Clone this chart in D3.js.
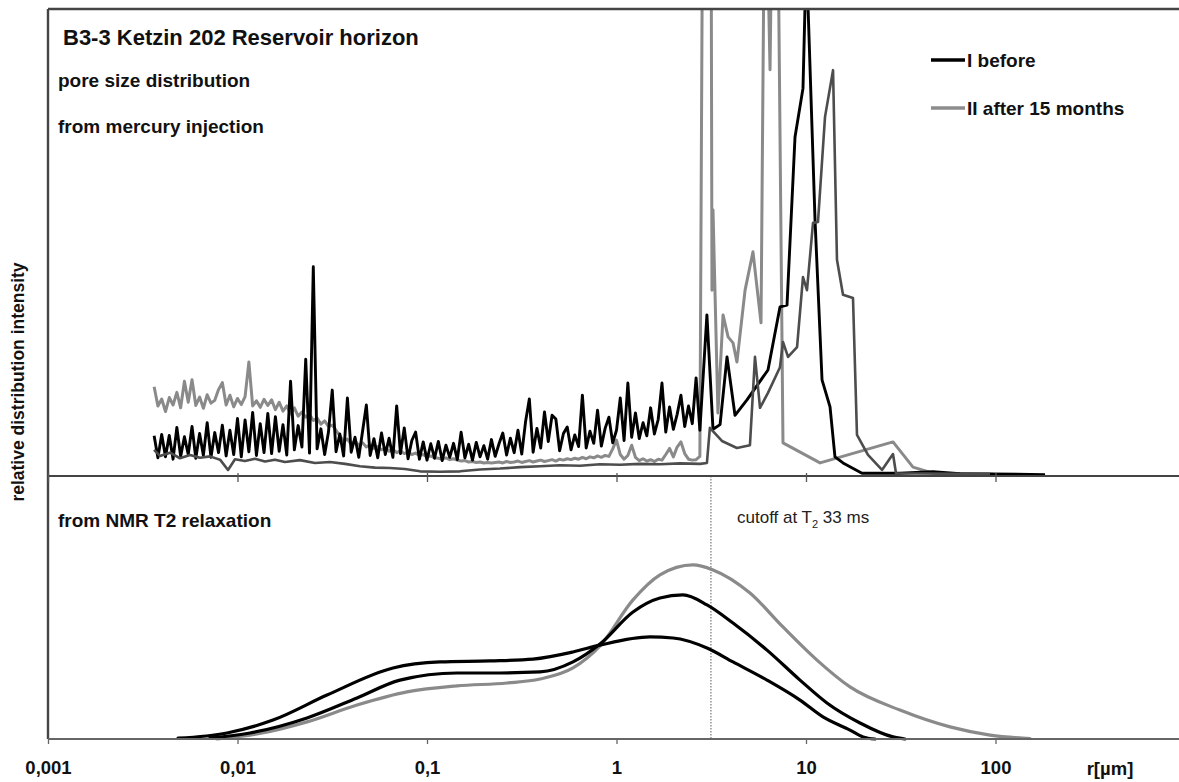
<!DOCTYPE html>
<html>
<head>
<meta charset="utf-8">
<script src="https://cdn.jsdelivr.net/npm/d3@7"></script>
<style>
  html, body { margin: 0; padding: 0; background: #fff; }
  svg { display: block; }
  text { font-family: "Liberation Sans", Arial, Helvetica, sans-serif; }
</style>
</head>
<body>
<svg id="chart" width="1179" height="782"></svg>
<script>
// ---- shared radius axis (µm, logarithmic) ----
const tickValues = [0.001, 0.01, 0.1, 1, 10, 100];
const tickLabels = ["0,001", "0,01", "0,1", "1", "10", "100"];
const cutoffRadius = 3.15;   // r at the T2 = 33 ms cutoff

// ---- mercury injection: intensities on an even log10(r) grid ----
const hgLogStart = -2.44;
const hgLogStep = 0.02;
const hgBefore = [
  8.6, 3.9, 8.9, 4.1, 8.7, 3.6, 10.4, 4.2, 8.4, 4.6,
  10.6, 3.8, 9.1, 4.4, 11.4, 4.0, 9.3, 5.0, 10.9, 4.3,
  9.8, 4.6, 12.3, 4.1, 12.0, 5.2, 13.6, 4.4, 11.2, 5.0,
  13.4, 4.8, 12.7, 5.3, 11.0, 4.5, 20.3, 5.6, 10.8, 6.2,
  25.0, 4.9, 44.8, 5.8, 10.1, 4.6, 9.4, 18.4, 5.2, 9.0,
  4.3, 16.7, 5.1, 8.3, 4.0, 9.6, 15.2, 4.4, 8.0, 3.9,
  9.2, 4.6, 8.1, 4.0, 15.0, 4.8, 10.3, 3.7, 7.6, 9.4,
  3.6, 7.3, 3.4, 6.9, 3.8, 7.4, 3.3, 6.6, 4.0, 7.0,
  3.5, 9.4, 3.9, 6.8, 3.4, 7.2, 4.1, 6.5, 3.6, 7.8,
  4.2, 6.9, 9.2, 4.5, 8.1, 5.0, 9.8, 4.7, 11.6, 16.5,
  5.1, 10.2, 6.0, 13.7, 7.4, 13.0, 12.2, 5.4, 9.1, 10.5,
  5.6, 8.8, 6.3, 17.3, 6.0, 9.6, 7.0, 14.1, 6.4, 10.2,
  12.6, 7.1, 9.8, 16.7, 7.6, 19.9, 8.3, 13.5, 8.0, 11.4,
  8.6, 14.6, 9.0, 12.1, 19.9, 9.4, 14.8, 10.0, 13.2, 17.3,
  10.6, 15.0, 11.2, 21.0, 9.8
];
const hgAfter = [
  19.1, 15.0, 16.5, 13.8, 16.8, 15.2, 17.9, 14.6, 20.3, 15.8,
  20.6, 15.1, 16.9, 14.5, 17.4, 15.6, 16.2, 18.5, 20.0, 15.2,
  17.3, 14.8, 16.6, 15.3, 17.0, 24.4, 15.0, 16.1, 14.7, 16.4,
  15.1, 16.3, 14.2, 15.8, 13.9, 15.0, 13.3, 14.6, 12.8, 13.7,
  12.6, 13.2, 11.9, 12.4, 11.1, 11.8, 10.6, 10.9, 9.8, 8.6,
  7.4, 7.9, 6.8, 7.5, 6.6, 7.1, 6.2, 6.7, 5.9, 6.3,
  5.6, 6.0, 5.3, 5.7, 5.0, 5.4, 4.8, 5.1, 4.6, 4.9,
  4.4, 4.6, 4.1, 4.3, 3.9, 3.8, 3.6, 3.9, 3.5, 3.7,
  3.4, 3.2, 3.3, 3.0, 3.1, 2.9, 3.0, 2.8, 2.9, 2.8,
  2.9, 3.0, 2.8, 3.1, 2.9, 3.0, 3.2, 2.9, 3.1, 3.3,
  3.0, 3.2, 3.4, 3.1, 3.3, 3.5, 3.2, 3.6, 3.4, 3.7,
  3.5, 3.8, 3.6, 4.0, 3.7, 4.1, 3.9, 4.3, 4.0, 4.4,
  4.2, 5.8, 7.7, 4.6, 3.6, 4.4, 6.6, 4.0, 3.3, 3.7,
  3.2, 3.5, 3.1, 3.6, 3.4, 4.6, 5.9, 4.1, 6.2, 7.3,
  4.8, 3.6, 3.4, 3.5, 4.2
];

// ---- mercury injection, coarse macropore region: [r µm, intensity] ----
const hgBeforePeak = [
  [3.00, 34.5], [3.23, 10.0], [3.52, 11.0], [3.83, 25.5], [4.22, 13.0],
  [4.88, 16.3], [6.30, 22.7], [7.29, 36.2], [7.94, 36.6], [8.75, 72.6],
  [9.64, 83.0], [9.88, 100.5], [10.25, 100.5], [11.16, 54.8], [12.15, 20.6],
  [13.39, 14.8], [14.22, 4.1], [15.68, 2.8], [19.75, 0.6], [31.3, 0.6],
  [46.8, 0.9], [65.0, 0.5], [182.5, 0.3]
];
const hgAfterPeak = [
  [2.86, 140], [3.15, 140], [3.19, 39.8], [3.23, 57.0], [3.43, 13.5],
  [3.65, 34.5], [3.88, 29.8], [4.12, 28.5], [4.32, 24.4], [4.77, 39.8],
  [5.25, 48.0], [5.79, 32.8], [6.08, 140], [6.46, 87.0], [6.70, 140],
  [7.03, 140], [7.56, 7.1], [11.86, 2.8], [28.78, 7.3], [36.7, 1.9],
  [46.8, 0.6], [97.0, 0.4]
];
const hgThird = [
  [0.003626, 5.6], [0.003899, 4.3], [0.004404, 5.0], [0.004971, 3.8], [0.005615, 4.5],
  [0.006341, 3.9], [0.007161, 4.2], [0.008087, 3.5], [0.008913, 1.3], [0.009700, 3.6],
  [0.01095, 3.2], [0.01237, 3.7], [0.01397, 3.1], [0.01577, 3.5], [0.01781, 3.0],
  [0.02137, 3.4], [0.02564, 2.8], [0.03076, 3.0], [0.03693, 2.6], [0.04430, 2.1],
  [0.05316, 1.8], [0.06377, 1.7], [0.07654, 1.5], [0.09185, 1.0], [0.1171, 0.9],
  [0.1493, 1.0], [0.1905, 1.4], [0.2428, 1.6], [0.3096, 1.9], [0.3949, 2.1],
  [0.5033, 2.3], [0.6418, 2.2], [0.8183, 2.5], [1.043, 2.4], [1.331, 2.6],
  [1.697, 2.5], [2.163, 2.7], [2.758, 2.6], [3.00, 2.8], [3.11, 10.3],
  [3.60, 7.5], [4.32, 6.0], [5.06, 6.6], [5.38, 25.5], [5.72, 14.6],
  [6.30, 17.8], [7.29, 23.3], [7.56, 28.7], [8.04, 25.5], [8.97, 27.6],
  [9.64, 42.6], [10.12, 39.8], [10.89, 54.2], [11.57, 54.4], [12.60, 76.9],
  [13.89, 86.9], [14.57, 46.3], [15.68, 38.8], [17.70, 38.1], [18.58, 8.8],
  [21.24, 4.5], [25.18, 1.3], [28.78, 4.7], [29.85, 0.6], [93.5, 0.4]
];

// ---- NMR T2 relaxation distributions: [r µm, intensity] ----
const nmrUpper = [
  [0.004853, 0.3], [0.008804, 2.3], [0.01539, 7.2], [0.02967, 16.7], [0.06616, 27.0],
  [0.1171, 29.3], [0.2150, 29.7], [0.3626, 30.4], [0.5893, 33.1], [0.8183, 35.7],
  [1.502, 38.8], [1.987, 38.4], [3.003, 34.6], [4.119, 29.3], [6.226, 22.4],
  [9.296, 14.8], [12.29, 8.4], [17.07, 3.4], [20.0, 0.8], [23.12, 0]
];
const nmrMiddle = [
  [0.007161, 0.4], [0.01164, 2.3], [0.02327, 8.0], [0.04272, 15.6], [0.07203, 22.4],
  [0.1440, 25.1], [0.2150, 25.1], [0.3948, 25.5], [0.5893, 29.3], [0.8183, 36.1],
  [1.222, 48.3], [1.696, 53.6], [2.243, 54.8], [3.003, 51.0], [4.119, 44.1],
  [6.226, 33.8], [9.296, 22.4], [12.90, 13.7], [19.28, 6.1], [28.78, 0.8], [33.30, 0]
];
const nmrAfter = [
  [0.007795, 0], [0.01267, 1.9], [0.02327, 6.5], [0.04272, 12.9], [0.07844, 17.9],
  [0.1440, 20.2], [0.2644, 21.3], [0.3948, 22.8], [0.5893, 27.0], [0.8183, 35.4],
  [1.222, 52.9], [1.696, 62.4], [2.533, 66.2], [3.230, 64.3], [5.064, 55.5],
  [7.559, 42.6], [11.43, 30.0], [17.07, 19.8], [31.33, 11.0], [57.54, 4.6],
  [93.54, 1.5], [152, 0.2]
];

const legendItems = [
  { label: "I before", color: "#000000" },
  { label: "II after 15 months", color: "#8c8c8c" }
];

// ---- layout ----
const W = 1179, H = 782;
const left = 48, right = 1185;
const topY = 9, midY = 476, botY = 739;

const svg = d3.select("#chart");

const x = d3.scaleLog().domain([0.001, 1000]).range([left, right]);
const yTop = d3.scaleLinear().domain([0, 100]).range([midY, topY]);
const yBot = d3.scaleLinear().domain([0, 100]).range([botY, midY]);

// the regular mercury grid -> [r, value]
const onGrid = vals => vals.map((v, i) => [Math.pow(10, hgLogStart + i * hgLogStep), v]);
const before = onGrid(hgBefore).concat(hgBeforePeak);
const after = onGrid(hgAfter).concat(hgAfterPeak);

svg.append("defs").append("clipPath").attr("id", "clipTop")
  .append("rect").attr("x", left).attr("y", topY)
  .attr("width", right - left).attr("height", midY - topY);

const lineTop = d3.line().x(d => x(d[0])).y(d => yTop(d[1]));
const lineBot = d3.line().x(d => x(d[0])).y(d => yBot(d[1])).curve(d3.curveMonotoneX);

// ---- upper panel: mercury injection ----
const gTop = svg.append("g").attr("clip-path", "url(#clipTop)");
gTop.append("path").datum(after).attr("d", lineTop)
  .attr("fill", "none").attr("stroke", "#8a8a8a").attr("stroke-width", 3)
  .attr("stroke-linejoin", "round");
gTop.append("path").datum(before).attr("d", lineTop)
  .attr("fill", "none").attr("stroke", "#000").attr("stroke-width", 2.9)
  .attr("stroke-linejoin", "round");
gTop.append("path").datum(hgThird).attr("d", lineTop)
  .attr("fill", "none").attr("stroke", "#4d4d4d").attr("stroke-width", 2.6)
  .attr("stroke-linejoin", "round");

// ---- lower panel: NMR ----
svg.append("line")
  .attr("x1", x(cutoffRadius)).attr("x2", x(cutoffRadius))
  .attr("y1", midY).attr("y2", botY)
  .attr("stroke", "#777").attr("stroke-width", 1.2)
  .attr("stroke-dasharray", "1.5,1.5");

const gBot = svg.append("g");
[[nmrAfter, "#8a8a8a"], [nmrMiddle, "#000"], [nmrUpper, "#000"]].forEach(([d, c]) => {
  gBot.append("path").datum(d).attr("d", lineBot)
    .attr("fill", "none").attr("stroke", c).attr("stroke-width", 3.2)
    .attr("stroke-linejoin", "round").attr("stroke-linecap", "round");
});

// ---- frame and axes ----
const frame = svg.append("g").attr("stroke", "#444").attr("fill", "none");
frame.append("line").attr("x1", left).attr("x2", W).attr("y1", topY).attr("y2", topY).attr("stroke-width", 2.4);
frame.append("line").attr("x1", left).attr("x2", left).attr("y1", topY).attr("y2", botY).attr("stroke-width", 2.4);
frame.append("line").attr("x1", left).attr("x2", W).attr("y1", midY).attr("y2", midY).attr("stroke-width", 2.2);
frame.append("line").attr("x1", left).attr("x2", W).attr("y1", botY).attr("y2", botY)
  .attr("stroke", "#666").attr("stroke-width", 2.2);

// decade ticks on the panel divider
const axMid = svg.append("g").attr("transform", `translate(0,${midY})`)
  .call(d3.axisBottom(x).tickValues(tickValues).tickFormat("").tickSizeInner(6).tickSizeOuter(0));
axMid.select(".domain").remove();
axMid.selectAll(".tick line").attr("y1", -3).attr("stroke", "#555").attr("stroke-width", 1.3);

// bottom axis with labels
const axBot = svg.append("g").attr("transform", `translate(0,${botY})`)
  .call(d3.axisBottom(x).tickValues(tickValues)
    .tickFormat((d, i) => tickLabels[i]).tickSizeInner(5).tickSizeOuter(0).tickPadding(17));
axBot.select(".domain").remove();
axBot.selectAll(".tick line").attr("stroke", "#666").attr("stroke-width", 1.3);
axBot.selectAll(".tick text")
  .attr("font-family", '"Liberation Sans", Arial, sans-serif')
  .attr("font-size", 18.5).attr("font-weight", "bold").attr("fill", "#111");

svg.append("text").attr("x", 1110).attr("y", 774.5).attr("text-anchor", "middle")
  .attr("font-size", 18.5).attr("font-weight", "bold").attr("fill", "#111")
  .text("r[µm]");

// y-axis title
svg.append("text")
  .attr("transform", `translate(24,${(topY + botY) / 2 + 8}) rotate(-90)`)
  .attr("text-anchor", "middle").attr("font-size", 17.5).attr("font-weight", "bold").attr("fill", "#111")
  .text("relative distribution intensity");

// ---- panel texts ----
const txt = (s, tx, ty, size, weight) => svg.append("text").attr("x", tx).attr("y", ty)
  .attr("font-size", size).attr("font-weight", weight).attr("fill", "#111").text(s);
txt("B3-3 Ketzin 202 Reservoir horizon", 63, 45, 22, "bold");
txt("pore size distribution", 58, 87, 19, "bold");
txt("from mercury injection", 58, 133, 19, "bold");
txt("from NMR T2 relaxation", 58, 527, 19, "bold");

const cut = svg.append("text").attr("x", 737).attr("y", 523)
  .attr("font-size", 17).attr("fill", "#222");
cut.append("tspan").text("cutoff at T");
cut.append("tspan").attr("font-size", 11).attr("dy", 5).text("2");
cut.append("tspan").attr("dy", -5).text(" 33 ms");

// ---- legend ----
const lg = svg.append("g");
legendItems.forEach((it, i) => {
  const ly = 60 + i * 48;
  lg.append("line").attr("x1", 931).attr("x2", 965).attr("y1", ly).attr("y2", ly)
    .attr("stroke", it.color).attr("stroke-width", 3.5);
  lg.append("text").attr("x", 967).attr("y", ly + 7).attr("font-size", 19)
    .attr("font-weight", "bold").attr("fill", "#111").text(it.label);
});
</script>
</body>
</html>
